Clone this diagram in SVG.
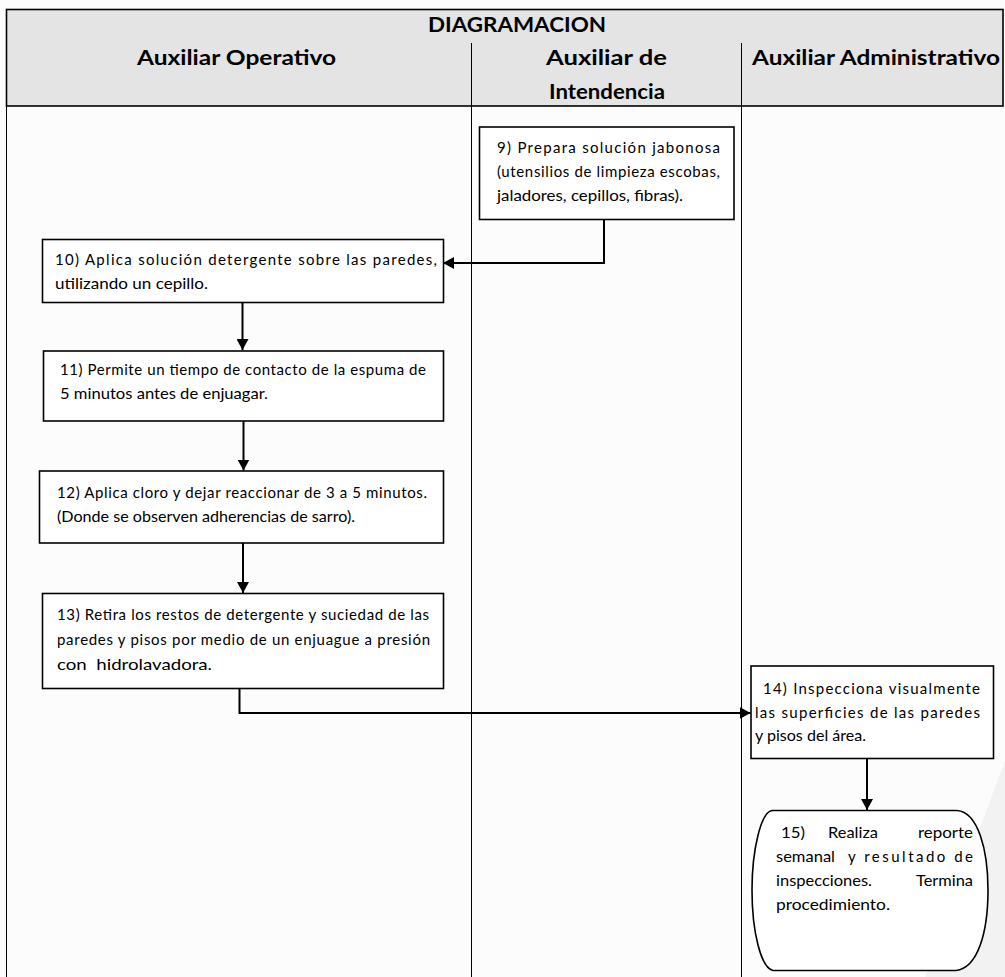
<svg xmlns="http://www.w3.org/2000/svg" width="1005" height="977" viewBox="0 0 1005 977">
<style>
.hdr{font-family:Lato,"Liberation Sans",sans-serif;font-weight:bold;font-size:20px;fill:#000;text-anchor:middle}
.t{font-family:Lato,"Liberation Sans",sans-serif;font-size:15px;fill:#000}
.box{fill:#fff;stroke:#000;stroke-width:1.6}
.lane{stroke:#000;stroke-width:1;fill:none}
.con{stroke:#000;stroke-width:2;fill:none}
</style>
<defs>
<marker id="ah" markerUnits="userSpaceOnUse" markerWidth="12" markerHeight="12" refX="11" refY="6" orient="auto">
<path d="M0,0 L11,6 L0,12 z" fill="#000"/>
</marker>
</defs>
<rect x="0" y="0" width="1005" height="977" fill="#fdfcfc"/>
<polygon points="1005,760 1005,977 925,977" fill="#f3f2f2"/>
<g id="table">
<rect x="6.5" y="9.5" width="996.5" height="96.5" fill="#e4e4e4" stroke="#000" stroke-width="1.6"/>
<line class="lane" x1="6.5" y1="106" x2="6.5" y2="977"/>
<line class="lane" x1="471.5" y1="43" x2="471.5" y2="977"/>
<line class="lane" x1="741.5" y1="43" x2="741.5" y2="977"/>
<text class="hdr" x="517" y="32" textLength="178" lengthAdjust="spacingAndGlyphs">DIAGRAMACION</text>
<text class="hdr" x="236.5" y="65" textLength="199" lengthAdjust="spacingAndGlyphs">Auxiliar Operativo</text>
<text class="hdr" x="606.5" y="65" textLength="121" lengthAdjust="spacingAndGlyphs">Auxiliar de</text>
<text class="hdr" x="607" y="99" textLength="116" lengthAdjust="spacingAndGlyphs">Intendencia</text>
<text class="hdr" x="876" y="65" textLength="248" lengthAdjust="spacingAndGlyphs">Auxiliar Administrativo</text>
</g>
<g id="connectors">
<path class="con" d="M604 219 V263 H443" marker-end="url(#ah)"/>
<path class="con" d="M242.5 302 V350" marker-end="url(#ah)"/>
<path class="con" d="M243.5 421 V470.5" marker-end="url(#ah)"/>
<path class="con" d="M243 543 V593" marker-end="url(#ah)"/>
<path class="con" d="M239.5 685 V713 H750.5" marker-end="url(#ah)"/>
<path class="con" d="M867 758 V810" marker-end="url(#ah)"/>
</g>
<g id="n9">
<rect class="box" x="479.5" y="127" width="254.5" height="92.5"/>
<text class="t" x="497" y="153" textLength="223" lengthAdjust="spacing">9) Prepara solución jabonosa</text>
<text class="t" x="497" y="177" textLength="223" lengthAdjust="spacing">(utensilios de limpieza escobas,</text>
<text class="t" x="497" y="201" textLength="186" lengthAdjust="spacingAndGlyphs">jaladores, cepillos, fibras).</text>
</g>
<g id="n10">
<rect class="box" x="42.5" y="239.5" width="401" height="63"/>
<text class="t" x="55" y="265" textLength="382" lengthAdjust="spacing">10) Aplica solución detergente sobre las paredes,</text>
<text class="t" x="55" y="289" textLength="153" lengthAdjust="spacingAndGlyphs">utilizando un cepillo.</text>
</g>
<g id="n11">
<rect class="box" x="43.5" y="351" width="400" height="70"/>
<text class="t" x="60" y="375" textLength="366" lengthAdjust="spacing">11) Permite un tiempo de contacto de la espuma de</text>
<text class="t" x="60" y="399" textLength="208" lengthAdjust="spacingAndGlyphs">5 minutos antes de enjuagar.</text>
</g>
<g id="n12">
<rect class="box" x="39.5" y="471" width="404" height="72"/>
<text class="t" x="57" y="498" textLength="370" lengthAdjust="spacing">12) Aplica cloro y dejar reaccionar de 3 a 5 minutos.</text>
<text class="t" x="57" y="522" textLength="298" lengthAdjust="spacingAndGlyphs">(Donde se observen adherencias de sarro).</text>
</g>
<g id="n13">
<rect class="box" x="42.5" y="593.5" width="401" height="95"/>
<text class="t" x="57" y="620" textLength="372" lengthAdjust="spacing">13) Retira los restos de detergente y suciedad de las</text>
<text class="t" x="57" y="645" textLength="373" lengthAdjust="spacing">paredes y pisos por medio de un enjuague a presión</text>
<text class="t" x="57" y="670" textLength="155" lengthAdjust="spacingAndGlyphs" xml:space="preserve">con  hidrolavadora.</text>
</g>
<g id="n14">
<rect class="box" x="751" y="666" width="242.5" height="92.5"/>
<text class="t" x="763" y="694" textLength="217" lengthAdjust="spacing">14) Inspecciona visualmente</text>
<text class="t" x="755" y="718" textLength="225" lengthAdjust="spacing">las superficies de las paredes</text>
<text class="t" x="755" y="741" textLength="111" lengthAdjust="spacingAndGlyphs">y pisos del área.</text>
</g>
<g id="n15">
<path class="box" d="M772 810.5 H957 C978 812 988 850 988 890 C988 932 978 968 956 970.5 H773 C761 968 752 932 752 890 C752 850 761 812 772 810.5 Z"/>
<text class="t" x="781" y="838" textLength="24" lengthAdjust="spacingAndGlyphs">15)</text>
<text class="t" x="828" y="838" textLength="50" lengthAdjust="spacingAndGlyphs">Realiza</text>
<text class="t" x="918" y="838" textLength="55" lengthAdjust="spacingAndGlyphs">reporte</text>
<text class="t" x="776" y="862" textLength="59" lengthAdjust="spacingAndGlyphs">semanal</text>
<text class="t" x="848" y="862" textLength="125" lengthAdjust="spacing">y resultado de</text>
<text class="t" x="776" y="886" textLength="96" lengthAdjust="spacingAndGlyphs">inspecciones.</text>
<text class="t" x="916" y="886" textLength="57" lengthAdjust="spacingAndGlyphs">Termina</text>
<text class="t" x="776" y="910" textLength="114" lengthAdjust="spacingAndGlyphs">procedimiento.</text>
</g>
</svg>
